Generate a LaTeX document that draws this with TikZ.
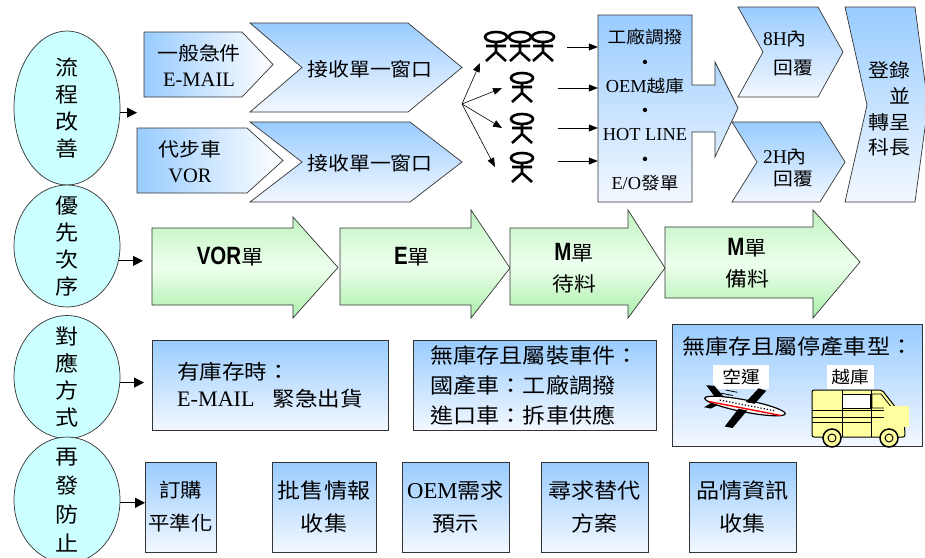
\documentclass[tikz,border=0pt]{standalone}
\usepackage{fontspec}
\setmainfont{Noto Sans CJK TC}[FakeStretch=1.1]
\newfontfamily\tm{Liberation Serif}[Scale=1.08]
\newfontfamily\hv{Liberation Sans}[FakeStretch=0.82]
\usetikzlibrary{shapes.geometric,arrows.meta}

\definecolor{aqua}{RGB}{204,255,255}
\definecolor{skyblue}{RGB}{153,204,255}
\definecolor{paleblue}{RGB}{243,248,255}
\definecolor{mint}{RGB}{170,240,170}
\definecolor{mintlight}{RGB}{238,255,238}
\definecolor{vanyellow}{RGB}{255,255,160}

\newcommand\fs[2]{\fontsize{#1}{#2}\selectfont}
\newcommand\en[1]{{\tm #1}}
\newcommand\bsans[1]{{\hv\bfseries\fontsize{25}{26}\selectfont #1}}

% little stick man, origin at the centre of the head
\tikzset{
  man/.pic={
    \draw[line width=2.6pt] (0,0) ellipse [x radius=11, y radius=5]
      (0,5) -- (0,15) (-10,9) -- (10,9) (-10,24) -- (0,15) -- (10,24);
  }
}

\begin{document}
\begin{tikzpicture}[x=1pt, y=-1pt,
  every node/.style={inner sep=0pt},
  oval/.style={ellipse, draw=black!80, line width=0.7pt, fill=aqua, minimum width=106},
  otxt/.style={align=center, font=\fs{21}{27}},
  bl/.style={draw=black!80, line width=0.7pt, top color=skyblue, bottom color=paleblue},
  tab/.style={draw=black!80, line width=0.7pt, left color=skyblue, right color=white},
  gr/.style={draw=black!80, line width=0.7pt, top color=mint!75, bottom color=mint, middle color=mintlight},
  txt/.style={align=center, font=\fs{19}{26}},
  gtxt/.style={align=center, font=\fs{20}{31}},
  tile/.style={rectangle, bl, align=center, font=\fs{21}{33}},
  tag/.style={fill=white, minimum height=24, font=\fs{17}{20}},
  lead/.style={-{Triangle[length=10pt,width=10pt]}, line width=0.8pt},
  fan/.style={-{Triangle[length=9pt,width=7pt]}, line width=0.6pt}
]
\path[use as bounding box, fill=white] (0,0) rectangle (925,557);

% left column
\node[oval, minimum height=154, label={[otxt]center:流\\程\\改\\善}] (el1) at (67,108) {};
\node[oval, minimum height=122, label={[otxt]center:優\\先\\次\\序}] (el2) at (67,246) {};
\node[oval, minimum height=123, label={[otxt]center:對\\應\\方\\式}] (el3) at (67,377) {};
\node[oval, minimum height=126, label={[otxt, font=\fs{21}{29}]center:再\\發\\防\\止}] (el4) at (67,500) {};

\coordinate (in1) at (137,113);
\coordinate (in2) at (143,260);
\coordinate (in3) at (144,382);
\coordinate (in4) at (145,503);
\draw[lead] (el1.-5) -- (el1.-5 -| in1);
\draw[lead] (el2.-16) -- (el2.-16 -| in2);
\draw[lead] (el3.-6) -- (el3.-6 -| in3);
\draw[lead] (el4.-3) -- (el4.-3 -| in4);

% first row: intake
\path[tab] (144,32) -- (242,32) -- (273,64.5) -- (242,97) -- (144,97) -- cycle;
\node[txt] (mail) at (199,65) {一般急件\\\en{E-MAIL}};
\path[tab] (137,128) -- (247,128) -- (283,160.5) -- (247,193) -- (137,193) -- cycle;
\node[txt] (vor) at (190,162) {代步車\\\en{VOR}};

\path[bl] (250,23) -- (408,23) -- (462,67.5) -- (408,112) -- (250,112) -- (302,67.5) -- cycle;
\node[txt] (win1) at (370,69) {接收單一窗口};
\path[bl] (250,122) -- (410,122) -- (462,162) -- (410,202) -- (250,202) -- (302,162) -- cycle;
\node[txt] (win2) at (370,163) {接收單一窗口};

\pic at (496,37) {man};
\pic at (520,37) {man};
\pic at (543,37) {man};
\pic at (522,78) {man};
\pic at (522,119) {man};
\pic at (522,158) {man};

\coordinate (fan) at (462,104);
\coordinate (f1) at (480,63);
\coordinate (f2) at (502,88);
\coordinate (f3) at (502,128);
\coordinate (f4) at (495,167);
\foreach \i in {1,...,4}
  \draw[fan] (fan) -- (f\i);

\path[bl] (598,15) -- (692,15) -- (692,85) -- (715,85) -- (715,62) -- (738,108)
  -- (715,157) -- (715,132) -- (692,132) -- (692,202) -- (598,202) -- cycle;
\node[align=center, font=\fs{17}{24.3}, minimum width=94, minimum height=187] (opts) at (645,110)
  {工廠調撥\\\en{•}\\\en{OEM}越庫\\\en{•}\\\en{HOT LINE}\\\en{•}\\\en{E/O}發單};

\coordinate (g1) at (567,47);
\coordinate (g2) at (558,88);
\coordinate (g3) at (558,128);
\coordinate (g4) at (558,161);
\foreach \i in {1,...,4}
  \draw[fan] (g\i) -- (g\i -| opts.west);

\path[bl] (738,7) -- (818,7) -- (843,52) -- (818,97) -- (738,97) -- (763,52) -- cycle;
\node[align=left, font=\fs{18}{29}] (h8) at (788,54) {\en{8H}內\\\hspace{10pt}回覆};
\path[bl] (732,122) -- (820,122) -- (845,162) -- (820,202) -- (732,202) -- (757,162) -- cycle;
\node[align=left, font=\fs{18}{22}] (h2) at (788,168) {\en{2H}內\\\hspace{10pt}回覆};

\path[bl] (845,7) -- (915,7) -- (928,105) -- (915,202) -- (845,202) -- (867,105) -- cycle;
\node[align=right, font=\fs{19}{25.7}] (rep) at (889,109) {登錄\\並\\轉呈\\科長};

% second row: priority
\path[gr] (152,228) -- (293,228) -- (293,217) -- (338,267.5) -- (293,318) -- (293,305) -- (152,305) -- cycle;
\node[gtxt] (vorord) at (230,257) {\bsans{VOR}單};
\path[gr] (340,228) -- (471,228) -- (471,210) -- (510,268) -- (471,318) -- (471,305) -- (340,305) -- cycle;
\node[gtxt] (eord) at (412,257) {\bsans{E}單};
\path[gr] (510,228) -- (628,228) -- (628,210) -- (665,268) -- (628,318) -- (628,305) -- (510,305) -- cycle;
\node[gtxt] (mwait) at (574,268) {\bsans{M}單\\待料};
\path[gr] (665,227) -- (813,227) -- (813,210) -- (860,262) -- (813,318) -- (813,298) -- (665,298) -- cycle;
\node[gtxt] (mready) at (747,263) {\bsans{M}單\\備料};

% third row: response
\node[tile, minimum width=236, minimum height=90, align=left, font=\fs{20.5}{27}] (stock) at (270,385)
  {有庫存時：\\\en{E-MAIL}\hspace{18pt}緊急出貨};
\node[tile, minimum width=243, minimum height=90, align=left, font=\fs{21}{30}] (kit) at (534.5,385)
  {無庫存且屬裝車件：\\國產車：工廠調撥\\進口車：拆車供應};
\node[tile, minimum width=250, minimum height=122] (eol) at (797,385) {};
\node[anchor=west, font=\fs{21}{26}] (eoltitle) at (682,347) {無庫存且屬停產車型：};
\node[tag, minimum width=56] (air) at (741,377) {空運};
\node[tag, minimum width=47] (road) at (850,377) {越庫};

% airplane
\begin{scope}[shift={(745,406)}, rotate=-11]
  \fill (-30,-2) -- (-42,-13) -- (-34,-14) -- (-20,-3) -- cycle;
  \fill (-32,2) -- (-40,9) -- (-33,9) -- (-24,2) -- cycle;
  \draw[fill=white, line width=1.2pt] (0,0) ellipse [x radius=41, y radius=6];
  \draw[red, line width=1.4pt] (-36,2.5) -- (37,2.5);
  \draw[dotted, line width=1.2pt] (-26,-1) -- (30,-1);
  \fill (0,-4) -- (10,-20) -- (18,-19) -- (9,-4) -- cycle;
  \fill (3,4) -- (-8,24) -- (-16,24) -- (-6,4) -- cycle;
  \draw[line width=0.8pt] (-22,-12) -- (-10,-12) (-26,-8) -- (-14,-8);
\end{scope}

% van
\draw[fill=vanyellow, line width=1pt, rounded corners=2pt]
  (812,390) -- (882,390) -- (896,408) -- (904,412) -- (905,437) -- (812,437) -- cycle;
\draw[fill=white, line width=0.8pt] (842,394) rectangle (870,408);
\draw[line width=0.8pt] (872,394) -- (881,394) -- (892,408) -- (872,408) -- cycle;
\draw[line width=0.8pt] (812,410) -- (905,410) (812,417) -- (905,417) (812,422) -- (872,422)
  (842,390) -- (842,437) (871,390) -- (871,437);
\fill[vanyellow] (884,406) rectangle (909,427);
\foreach \x in {832,889} {
  \draw[fill=vanyellow, line width=1.5pt] (\x,438) circle [radius=9];
  \draw[line width=1pt] (\x,438) circle [radius=4];
}

% fourth row: prevention
\node[tile, minimum width=71, minimum height=90, font=\fs{19.5}{33}] (b1) at (180.5,507) {訂購\\平準化};
\node[tile, minimum width=104, minimum height=90] (b2) at (324,507) {批售情報\\收集};
\node[tile, minimum width=107, minimum height=90] (b3) at (455.5,507) {\en{OEM}需求\\預示};
\node[tile, minimum width=107, minimum height=90] (b4) at (594.5,507) {尋求替代\\方案};
\node[tile, minimum width=107, minimum height=90] (b5) at (742.5,507) {品情資訊\\收集};
\end{tikzpicture}
\end{document}
